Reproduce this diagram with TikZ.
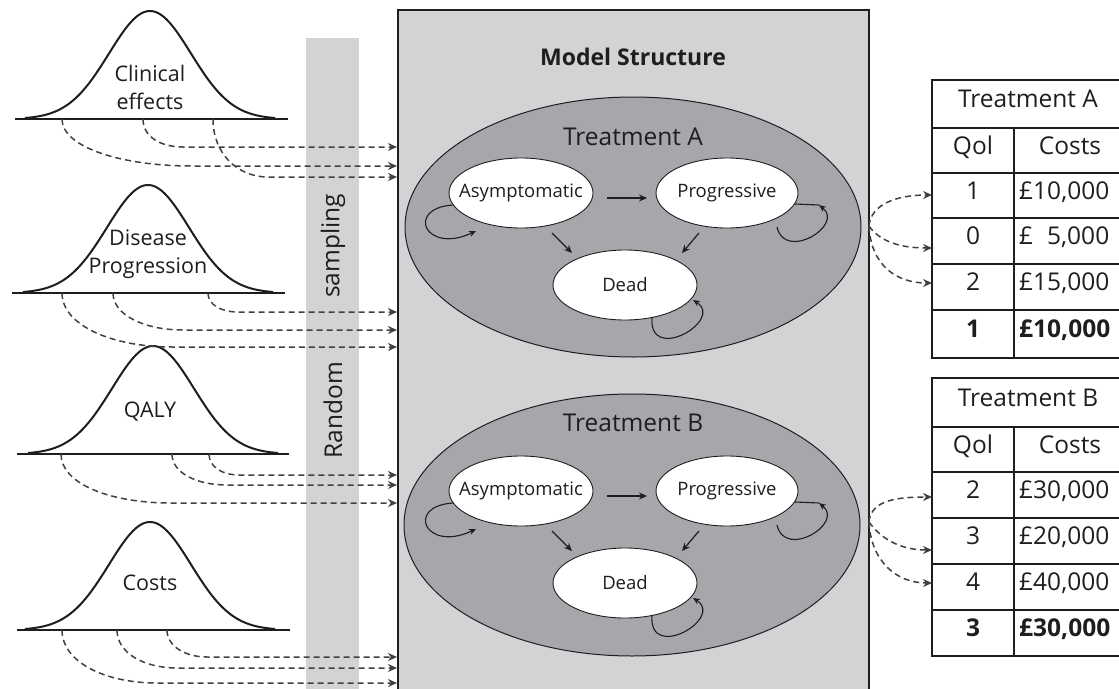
\documentclass[tikz,border=0pt]{standalone}
\usepackage{fontspec}
\setmainfont{Open Sans}
\usetikzlibrary{arrows.meta,calc,shapes.geometric}
\definecolor{boxgray}{HTML}{D2D3D5}
\definecolor{ellgray}{HTML}{A6A7AB}
\definecolor{ink}{HTML}{1E1E1E}
\definecolor{dashc}{HTML}{404040}
\tikzset{
  bellcurve/.style={draw=ink, line width=2pt},
  baseln/.style={draw=ink, line width=1.6pt},
  dcon/.style={draw=dashc, line width=1.5pt, dash pattern=on 6pt off 4pt, -{Stealth[length=9pt,width=8pt]}},
  statefont/.style={font=\fontsize{18.5}{22}\selectfont, text=ink, inner sep=0pt},
  state/.style={ellipse, draw=ink, line width=0.9pt, fill=white, minimum width=144pt, minimum height=70pt, inner sep=0pt},
  treat/.style={ellipse, draw=ink, line width=1pt, fill=ellgray, minimum width=456pt, minimum height=260pt, inner sep=0pt},
  sarrow/.style={draw=ink, line width=1.2pt, -{Stealth[length=8pt,width=7pt]}},
  looparr/.style={draw=ink, line width=1.1pt, -{Stealth[length=7pt,width=6pt]}},
  loopline/.style={draw=ink, line width=1.1pt},
  belllabel/.style={font=\fontsize{21.5}{28}\selectfont, text=ink, align=center, inner sep=0pt},
  striplabel/.style={font=\fontsize{24.5}{28}\selectfont, text=ink, rotate=90, inner sep=0pt},
  tlabel/.style={font=\fontsize{24.5}{28}\selectfont, text=ink, inner sep=0pt},
  tabl/.style={draw=ink, line width=1.5pt},
  tabtxt/.style={font=\fontsize{24.5}{28}\selectfont, text=ink, inner sep=0pt, text height=0.714em, text depth=0pt},
  tabbold/.style={tabtxt, font=\bfseries\fontsize{24.5}{28}\selectfont},
}
\newcommand\bellshape[4]{% center x, baseline y, line from, line to
  \draw[baseln] (#3,#2) -- (#4,#2);
  \draw[bellcurve] plot[domain=-125:125, samples=100, smooth] ({#1+\x},{#2-108*exp(-0.5*(\x/41)*(\x/41))});
}
\newcommand\leftarr[4]{% tick, tip, first control drop, curve width
  \draw[dcon] (#1) .. controls +(0,#3) and +({-0.55*#4},0) .. ($(#1 |- #2)+(#4,0)$) -- (#2);
}
\newcommand\markov[2]{%
  \node[state, label={[statefont]center:Asymptomatic}] (as#1) at (521,#2) {};
  \node[state, minimum width=142pt, label={[statefont]center:Progressive}] (pr#1) at (727,#2) {};
  \node[state, label={[statefont]center:Dead}] (de#1) at (625,{#2+92}) {};
  \draw[sarrow] ($(as#1)+(86,5)$) -- ($(pr#1)+(-80,5)$);
  \draw[sarrow] ($(as#1)+(31,40)$) -- ($(de#1)+(-53,-32)$);
  \draw[sarrow] ($(pr#1)+(-28,40)$) -- ($(de#1)+(57,-32)$);
  \draw[looparr] ($(as#1)+(-68,12)$) .. controls +(-48,3) and +(-51,24) .. ($(as#1)+(-45,38)$);
  \draw[loopline] ($(pr#1)+(92,12)$) -- ($(pr#1)+(68,11)$);
  \draw[looparr] ($(pr#1)+(50,34)$) .. controls +(8,35) and +(26,20) .. ($(pr#1)+(92,12)$);
  \draw[looparr] ($(de#1)+(27,32)$) .. controls +(-4,48) and +(32,20) .. ($(de#1)+(68,15)$);
}
\begin{document}
\begin{tikzpicture}[x=1pt,y=-1pt]
\useasboundingbox (0,0) rectangle (1119,688);

% random sampling strip
\fill[boxgray] (306,38) rectangle (359,700);
\node[striplabel] (samp) at (333,246) {sampling};
\node[striplabel] (rand) at (333,410) {Random};

% model structure box
\node[draw=ink, line width=1.5pt, fill=boxgray, minimum width=471pt, minimum height=700pt, anchor=north west, inner sep=0pt] (model) at (397,9) {};
\node[font=\bfseries\fontsize{23}{28}\selectfont, text=ink] (mtitle) at (633,57) {Model Structure};

% treatment ellipses
\node[treat] (eA) at (633,227) {};
\node[tlabel] (labA) at (633,137) {Treatment A};
\markov{A}{193}
\node[treat, minimum height=262pt] (eB) at (632,525) {};
\node[tlabel] (labB) at (633,423) {Treatment B};
\markov{B}{491}

% bell curves
\bellshape{150}{119}{15}{288}
\node[belllabel] (lclin) at (150,87) {Clinical\\effects};
\bellshape{148}{293}{12}{285}
\node[belllabel] (ldis) at (148,254) {Disease\\Progression};
\bellshape{153}{454}{17}{289}
\node[belllabel] (lqaly) at (150,412) {QALY};
\bellshape{150}{630}{17}{290}
\node[belllabel] (lcost) at (150,583) {Costs};

% tick points and arrow tips
\coordinate (k11) at (143,119); \coordinate (k12) at (62,119);  \coordinate (k13) at (213,119);
\coordinate (p11) at (397,147); \coordinate (p12) at (397,166); \coordinate (p13) at (397,177);
\coordinate (k21) at (208,293); \coordinate (k22) at (113,293); \coordinate (k23) at (62,293);
\coordinate (p21) at (397,312); \coordinate (p22) at (397,330); \coordinate (p23) at (397,347);
\coordinate (k31) at (209,454); \coordinate (k32) at (172,454); \coordinate (k33) at (61,454);
\coordinate (p31) at (397,475); \coordinate (p32) at (397,485); \coordinate (p33) at (397,503);
\coordinate (k41) at (167,630); \coordinate (k42) at (117,630); \coordinate (k43) at (62,630);
\coordinate (p41) at (397,657); \coordinate (p42) at (397,668); \coordinate (p43) at (397,683);

\leftarr{k11}{p11}{18}{40}
\leftarr{k12}{p12}{28}{130}
\leftarr{k13}{p13}{35}{55}
\leftarr{k21}{p21}{12}{30}
\leftarr{k22}{p22}{22}{70}
\leftarr{k23}{p23}{32}{110}
\leftarr{k31}{p31}{13}{30}
\leftarr{k32}{p32}{19}{55}
\leftarr{k33}{p33}{30}{110}
\leftarr{k41}{p41}{16}{40}
\leftarr{k42}{p42}{23}{60}
\leftarr{k43}{p43}{32}{95}

% table A
\draw[tabl] (932,80) rectangle (1130,358);
\foreach \yy in {128,173,218,264,310} \draw[tabl] (932,\yy) -- (1130,\yy);
\draw[tabl] (1014,128) -- (1014,358);
\node[tabtxt] (tAh) at (1028,104) {Treatment A};
\node[tabtxt] (tAq) at (973,150.5) {Qol};
\node[tabtxt] (tAc) at (1070,150.5) {Costs};
\node[tabtxt] (tA1q) at (973,195.5) {1};
\node[tabtxt, anchor=west] (tA1c) at (1019,195.5) {£10,000};
\node[tabtxt] (tA2q) at (973,241) {0};
\node[tabtxt, anchor=west] (tA2c) at (1019,241) {£\hphantom{1}5,000};
\node[tabtxt] (tA3q) at (973,287) {2};
\node[tabtxt, anchor=west] (tA3c) at (1019,287) {£15,000};
\node[tabbold] (tA4q) at (973,334) {1};
\node[tabbold, anchor=west] (tA4c) at (1019,334) {£10,000};

% table B
\draw[tabl] (932,378) rectangle (1130,656);
\foreach \yy in {427,472,518,564,610} \draw[tabl] (932,\yy) -- (1130,\yy);
\draw[tabl] (1014,427) -- (1014,656);
\node[tabtxt] (tBh) at (1028,402.5) {Treatment B};
\node[tabtxt] (tBq) at (973,449.5) {Qol};
\node[tabtxt] (tBc) at (1070,449.5) {Costs};
\node[tabtxt] (tB1q) at (973,495) {2};
\node[tabtxt, anchor=west] (tB1c) at (1019,495) {£30,000};
\node[tabtxt] (tB2q) at (973,541) {3};
\node[tabtxt, anchor=west] (tB2c) at (1019,541) {£20,000};
\node[tabtxt] (tB3q) at (973,587) {4};
\node[tabtxt, anchor=west] (tB3c) at (1019,587) {£40,000};
\node[tabbold] (tB4q) at (973,633) {3};
\node[tabbold, anchor=west] (tB4c) at (1019,633) {£30,000};

% output arrows
\coordinate (sA) at (869,226);
\coordinate (rA1) at (932,195); \coordinate (rA2) at (932,248); \coordinate (rA3) at (932,283);
\draw[dcon] (sA) .. controls +(2,-22) and +(-35,0) .. (rA1);
\draw[dcon] (sA) .. controls +(10,14) and +(-35,0) .. (rA2);
\draw[dcon] (sA) .. controls +(2,40) and +(-35,0) .. (rA3);
\coordinate (sB) at (869,522);
\coordinate (rB1) at (932,497); \coordinate (rB2) at (932,550); \coordinate (rB3) at (932,583);
\draw[dcon] (sB) .. controls +(2,-22) and +(-35,0) .. (rB1);
\draw[dcon] (sB) .. controls +(10,14) and +(-35,0) .. (rB2);
\draw[dcon] (sB) .. controls +(2,40) and +(-35,0) .. (rB3);
\end{tikzpicture}
\end{document}
